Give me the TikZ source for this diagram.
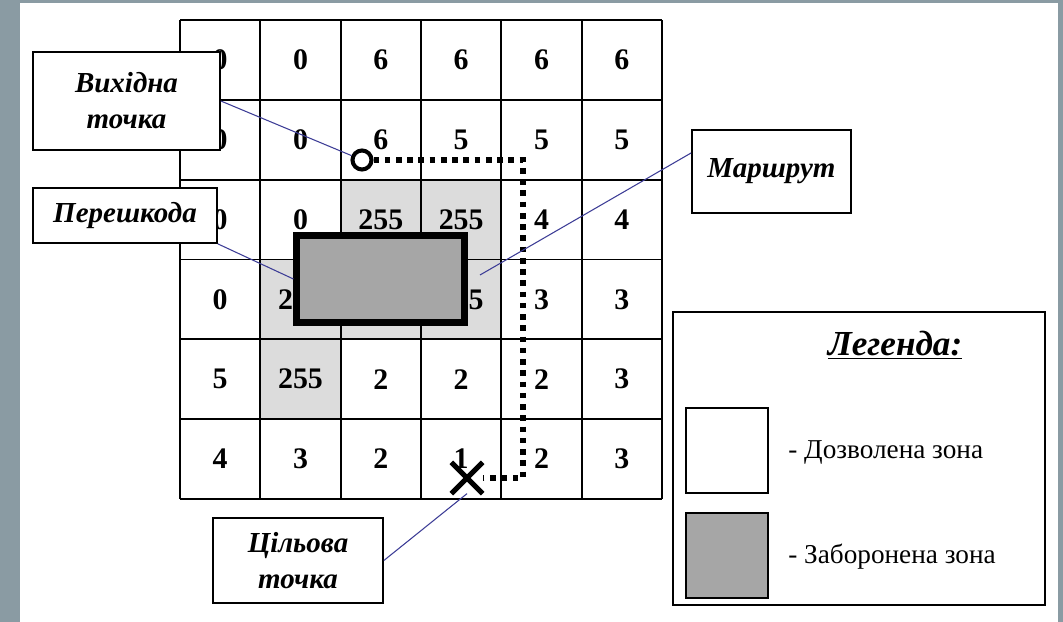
\documentclass[tikz,border=0pt]{standalone}
\usepackage{fontspec}
\setmainfont{Liberation Serif}
\usetikzlibrary{shapes.misc}
\definecolor{slate}{RGB}{138,155,163}
\definecolor{cellgray}{RGB}{220,220,220}
\definecolor{blockgray}{RGB}{166,166,166}
\definecolor{leadblue}{RGB}{60,60,150}

\begin{document}
\begin{tikzpicture}[x=0.02cm, y=-0.02cm,
  lbl/.style={draw, fill=white, line width=1pt, align=center, inner sep=0pt,
    font=\bfseries\itshape\fontsize{16.5}{20.5}\selectfont},
  num/.style={font=\bfseries\fontsize{17}{20}\selectfont},
  leader/.style={draw=leadblue, line width=0.6pt},
  route/.style={line width=3.2pt, dash pattern=on 3.2pt off 3.2pt},
  key/.style={draw, line width=1pt, minimum width=1.64cm, minimum height=1.7cm},
  keytext/.style={anchor=west, inner sep=0pt, font=\fontsize{15.5}{18}\selectfont}]
\useasboundingbox (0,0) rectangle (1063,622);
\fill[slate] (0,0) rectangle (1063,622);
\fill[white] (20,3) rectangle (1058,622);

\foreach \r/\c in {3/3,3/4,4/2,4/3,4/4,5/2}
  \fill[cellgray] (180+80.33*\c-80.33,20+79.83*\r-79.83) rectangle (180+80.33*\c,20+79.83*\r);
\foreach \i in {0,...,6} {
  \draw[line width=1.1pt] (180+80.33*\i,20) -- (180+80.33*\i,499);
  \draw[line width=1.1pt] (180,20+79.83*\i) -- (662,20+79.83*\i);
}
\foreach \row [count=\r] in {{0,0,6,6,6,6},{0,0,6,5,5,5},{0,0,255,255,4,4},
    {0,255,255,255,3,3},{5,255,2,2,2,3},{4,3,2,1,2,3}}
  \foreach \v [count=\c] in \row
    \node[num] (c\r\c) at (180+80.33*\c-40.17,20+79.83*\r-39.92) {\v};

\node[draw, line width=3.5pt, fill=blockgray, minimum width=3.36cm, minimum height=1.74cm, inner sep=0pt] (block) at (380.5,279) {};
\node[circle, draw, line width=2.3pt, minimum size=0.38cm, inner sep=0pt] (start) at (362,160) {};
\node[cross out, draw, line width=3pt, minimum size=0.52cm, inner sep=0pt] (goal) at (467,478) {};
\coordinate (bend) at (523,160);
\coordinate (routept) at (480,275);
\draw[route] (start) -- (bend) |- (goal);

\node[lbl, minimum width=3.74cm, minimum height=1.96cm] (src) at (126.5,101) {Вихідна\\точка};
\node[lbl, minimum width=3.68cm, minimum height=1.1cm] (obst) at (125,215.5) {Перешкода};
\node[lbl, minimum width=3.18cm, minimum height=1.66cm] (path) at (771.5,171.5) {Маршрут};
\node[lbl, minimum width=3.4cm, minimum height=1.7cm] (dst) at (298,560.5) {Цільова\\точка};

\draw[leader] (src.east) -- (start);
\draw[leader] (obst.south east) -- (block.west);
\draw[leader] (path.167) -- (routept);
\draw[leader] (dst.east) -- (goal.south);

\node[draw, line width=1pt, minimum width=7.44cm, minimum height=5.86cm] (legend) at (859,458.5) {};
\node[font=\bfseries\itshape\fontsize{20}{24}\selectfont] (legtitle) at (895,345) {\underline{Легенда:}};
\node[key, fill=white] (free) at (727,450.5) {};
\node[key, fill=blockgray] (busy) at (727,555.5) {};
\node[keytext] (freetxt) at (788,452) {- Дозволена зона};
\node[keytext] (busytxt) at (788,557) {- Заборонена зона};
\end{tikzpicture}
\end{document}
